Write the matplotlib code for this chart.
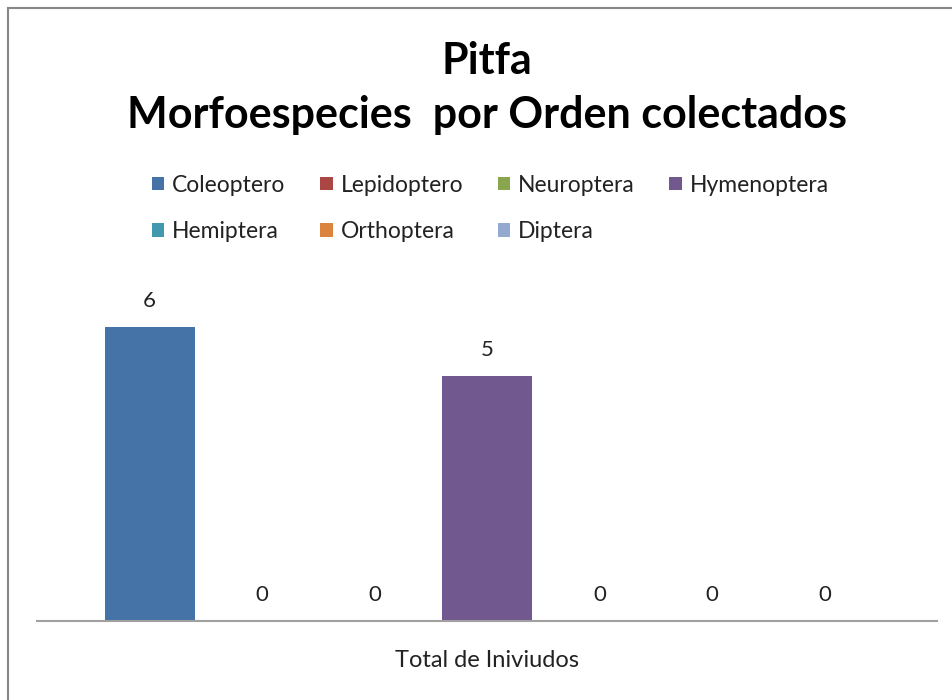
import matplotlib
matplotlib.use("Agg")
import matplotlib.pyplot as plt
from matplotlib.patches import Patch, Rectangle

plt.rcParams['font.family'] = ['Lato', 'DejaVu Sans']

ordenes = ["Coleoptero", "Lepidoptero", "Neuroptera", "Hymenoptera",
           "Hemiptera", "Orthoptera", "Diptera"]
valores = [6, 0, 0, 5, 0, 0, 0]
colores = ["#4572A7", "#AA4643", "#89A54E", "#71588F",
           "#4198AF", "#DB843D", "#93A9CF"]
categoria = "Total de Iniviudos"
titulo = "Pitfa\nMorfoespecies  por Orden colectados"

fig = plt.figure(figsize=(9.52, 7), dpi=100)
ax = fig.add_axes([37 / 952, 1 - 621 / 700, 900 / 952, 331 / 700])

# border of the chart area (only left/top visible in the original crop)
fig.patches.append(Rectangle((8 / 952, -0.05), 1.1, 1 - 8 / 700 + 0.05,
                             transform=fig.transFigure, fill=False,
                             edgecolor="#878787", linewidth=1.5))

n = len(ordenes)
pos = [i for i in range(n)]
bars = ax.bar(pos, valores, width=0.8, color=colores)
for b, v in zip(bars, valores):
    ax.annotate(str(v), (b.get_x() + b.get_width() / 2, v),
                xytext=(0, 19), textcoords="offset points",
                ha="center", va="center", fontsize=16, color="#222222")

ax.set_xlim(-1.0, n - 1 + 1.0)
ax.set_ylim(0, 331 / 49)
for s in ["top", "right", "left"]:
    ax.spines[s].set_visible(False)
ax.spines["bottom"].set_color("#A0A0A0")
ax.spines["bottom"].set_linewidth(1.5)
ax.set_xticks([])
ax.set_yticks([])
ax.text(0.5, -0.12, categoria, transform=ax.transAxes, ha="center",
        va="center", fontsize=17, color="#222222")

fig.text(487 / 952, 1 - 88 / 700, titulo, ha="center", va="center",
         fontsize=31, fontweight="bold", linespacing=1.42)

# legend is filled row by row in the original
orden_leyenda = [0, 4, 1, 5, 2, 6, 3]
handles = [Patch(facecolor=colores[i], edgecolor="none") for i in orden_leyenda]
labels = [ordenes[i] for i in orden_leyenda]
fig.legend(handles, labels, loc="upper left",
           bbox_to_anchor=(131 / 952, 1 - 154 / 700), ncol=4, frameon=False,
           fontsize=16.5, handlelength=0.55, handleheight=0.55,
           handletextpad=0.35, columnspacing=1.5, labelspacing=1.12,
           labelcolor="#222222")

fig.savefig("out.png", dpi=100, facecolor="white")
